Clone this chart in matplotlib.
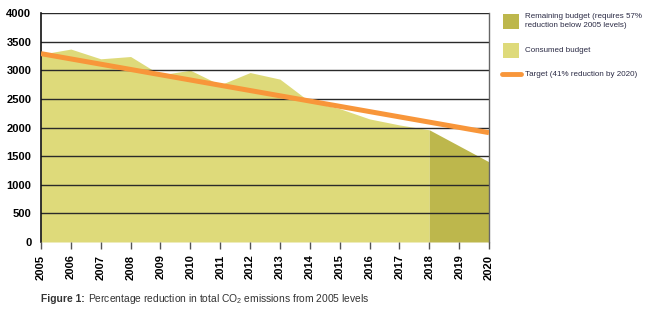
import matplotlib
matplotlib.use("Agg")
import matplotlib.pyplot as plt
from matplotlib.patches import Rectangle
from matplotlib.lines import Line2D

plt.rcParams['font.family'] = ['Liberation Sans', 'DejaVu Sans']
plt.rcParams['mathtext.fontset'] = 'custom'
plt.rcParams['mathtext.rm'] = 'Liberation Sans'
plt.rcParams['mathtext.it'] = 'Liberation Sans:italic'
plt.rcParams['mathtext.bf'] = 'Liberation Sans:bold'

years = list(range(2005, 2021))
consumed_years = list(range(2005, 2019))
consumed = [3280, 3370, 3200, 3240, 2920, 3000, 2745, 2960, 2845, 2450,
            2330, 2150, 2045, 1960]
remaining_years = [2018, 2019, 2020]
remaining = [1960, 1680, 1400]
target_years = [2005, 2020]
target = [3290, 1910]
y_ticks = [0, 500, 1000, 1500, 2000, 2500, 3000, 3500, 4000]

c_consumed = '#DEDA7A'
c_remaining = '#BDB74C'
c_target = '#F8963A'
c_text = '#2B2B45'

fig = plt.figure(figsize=(6.64, 3.24), dpi=100)
ax = fig.add_axes([41 / 664, 1 - 242 / 324, 448 / 664, 229 / 324])

ax.fill_between(consumed_years, 0, consumed, color=c_consumed, lw=0, zorder=1)
ax.fill_between(remaining_years, 0, remaining, color=c_remaining, lw=0, zorder=1)
for yv in y_ticks[1:]:
    ax.axhline(yv, color='#2a2a2a', lw=1.0, zorder=2)
ax.plot(target_years, target, color=c_target, lw=3.6, solid_capstyle='butt', zorder=3)

ax.set_xlim(2005, 2020)
ax.set_ylim(0, 4000)
ax.set_yticks(y_ticks)
ax.set_yticklabels([str(v) for v in y_ticks], fontsize=8, fontweight='bold')
ax.set_xticks(years)
ax.set_xticklabels([str(y) for y in years], rotation=90, fontsize=8,
                   fontweight='bold', va='top')
ax.tick_params(axis='y', length=0, pad=7)
ax.tick_params(axis='x', length=5, width=1, color='#555555', pad=4)

for s in ['top', 'bottom']:
    ax.spines[s].set_visible(False)
ax.spines['left'].set_color('#111111')
ax.spines['left'].set_linewidth(1.2)
ax.spines['right'].set_color('#666666')
ax.spines['right'].set_linewidth(1.0)
ax.set_axisbelow(False)

# legend drawn beside the plot
def fx(px):
    return px / 664

def fy(py):
    return 1 - py / 324

fig.add_artist(Rectangle((fx(503), fy(29)), fx(16), 15 / 324, color=c_remaining,
                         transform=fig.transFigure, lw=0))
fig.add_artist(Rectangle((fx(503), fy(58)), fx(16), 15 / 324, color=c_consumed,
                         transform=fig.transFigure, lw=0))
fig.add_artist(Line2D([fx(502), fx(521)], [fy(74), fy(74)], color=c_target, lw=3.5,
                      solid_capstyle='round', transform=fig.transFigure))
fs_leg = 5.8
fig.text(fx(525), fy(21), 'Remaining budget (requires 57%\nreduction below 2005 levels)',
         fontsize=fs_leg, color=c_text, va='center', ha='left', linespacing=1.3)
fig.text(fx(525), fy(51), 'Consumed budget', fontsize=fs_leg, color=c_text,
         va='center', ha='left')
fig.text(fx(525), fy(74), 'Target (41% reduction by 2020)', fontsize=fs_leg,
         color=c_text, va='center', ha='left')

# caption
cap_y = fy(299)
fs_cap = 7.4
t1 = fig.text(fx(41), cap_y, 'Figure 1:', fontsize=fs_cap, fontweight='bold',
              color='#333333', va='center', ha='left')
fig.canvas.draw()
bb = t1.get_window_extent()
fig.text(bb.x1 / fig.bbox.width + 3 / 664, cap_y,
         'Percentage reduction in total CO$_2$ emissions from 2005 levels',
         fontsize=fs_cap, color='#333333', va='center', ha='left')

fig.savefig('out.png', dpi=100)
